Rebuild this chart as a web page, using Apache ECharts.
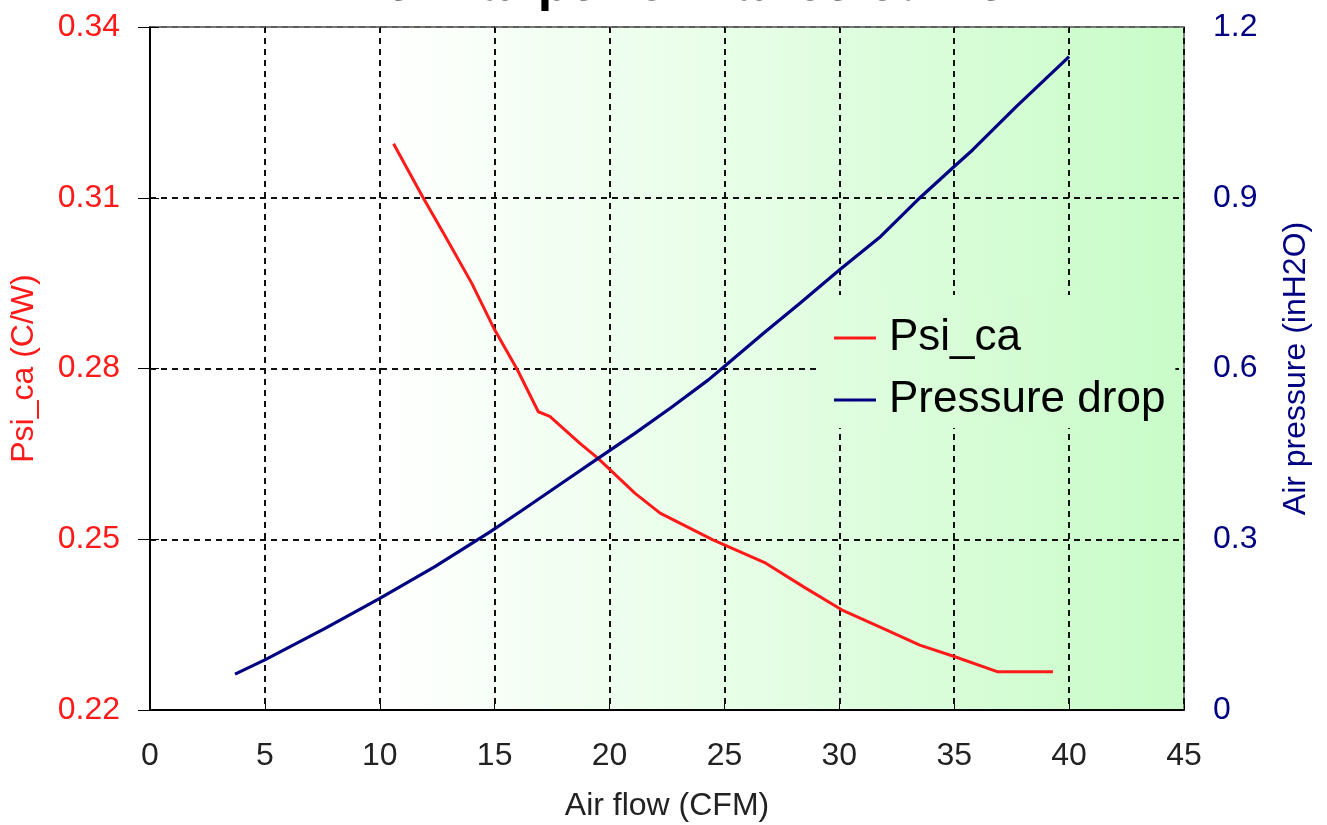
<!DOCTYPE html>
<html>
<head>
<meta charset="utf-8">
<script src="https://cdn.jsdelivr.net/npm/echarts@6/dist/echarts.min.js"></script>
<style>
html,body{margin:0;padding:0;background:#fff;}
#chart{width:1327px;height:825px;}
</style>
</head>
<body>
<div id="chart"></div>
<script>
// Air flow (CFM) vs Psi_ca (C/W)
var psiFlow = [10.6, 11.9, 12.8, 14.0, 15.0, 16.0, 16.9, 17.4, 18.7, 19.5, 21.1, 22.2, 24.5, 26.8, 28.5, 30.1, 31.8, 33.5, 35.0, 36.9, 39.3];
var psiValues = [0.3195, 0.3099, 0.3036, 0.2950, 0.2868, 0.2797, 0.2724, 0.2716, 0.2669, 0.2642, 0.2581, 0.2546, 0.2499, 0.2458, 0.2415, 0.2376, 0.2345, 0.2314, 0.2294, 0.2267, 0.2267];
// Air flow (CFM) vs Pressure drop (inH2O)
var pressureFlow = [3.7, 5.0, 7.6, 10.0, 12.4, 14.8, 16.2, 17.9, 19.5, 21.1, 22.7, 24.3, 24.8, 26.7, 28.3, 30.0, 31.8, 33.4, 35.0, 35.8, 37.7, 40.0];
var pressureValues = [0.063, 0.088, 0.143, 0.196, 0.252, 0.313, 0.351, 0.398, 0.442, 0.486, 0.532, 0.580, 0.597, 0.662, 0.715, 0.773, 0.832, 0.896, 0.955, 0.984, 1.060, 1.148];
var seriesNames = ['Psi_ca', 'Pressure drop'];
var titleText = 'Thermal performance curve';
var xAxisName = 'Air flow (CFM)';
var leftAxisName = 'Psi_ca (C/W)';
var rightAxisName = 'Air pressure (inH2O)';

function pairs(xs, ys) { return xs.map(function (x, i) { return [x, ys[i]]; }); }

var RED = '#ff1a1a';
var NAVY = '#000080';
var FONT = 'Liberation Sans';

var chart = echarts.init(document.getElementById('chart'));
var plotBg = new echarts.graphic.LinearGradient(0, 0, 1, 0, [
  { offset: 0, color: '#ffffff' },
  { offset: 0.22, color: '#ffffff' },
  { offset: 1, color: '#c8fcc8' }
]);
var legendBg = new echarts.graphic.LinearGradient(0, 0, 1, 0, [
  { offset: 0, color: '#e1fde1' },
  { offset: 1, color: '#c9fcc9' }
]);
var gridLine = { show: true, lineStyle: { color: '#111', type: [6, 5], width: 2 } };

chart.setOption({
  animation: false,
  backgroundColor: '#ffffff',
  title: {
    text: titleText,
    left: 316,
    top: -45,
    textStyle: { fontFamily: FONT, fontSize: 52, fontWeight: 'bold', color: '#000' }
  },
  grid: {
    left: 150, right: 143, top: 27, bottom: 115,
    outerBoundsMode: 'none',
    show: true, backgroundColor: plotBg, borderColor: '#555', borderWidth: 1.5
  },
  legend: {
    orient: 'vertical',
    left: 820, top: 295,
    padding: [19, 10, 4, 14],
    backgroundColor: legendBg,
    itemWidth: 42, itemHeight: 3, itemGap: 14,
    icon: 'rect',
    textStyle: { fontFamily: FONT, fontSize: 44, lineHeight: 48, color: '#000', padding: [0, 0, 0, 8] },
    data: seriesNames
  },
  xAxis: [{
    type: 'value', position: 'bottom', min: 0, max: 45, interval: 5,
    name: xAxisName, nameLocation: 'middle', nameGap: 80,
    nameTextStyle: { fontFamily: FONT, fontSize: 32, color: '#222' },
    axisLine: { show: true, lineStyle: { color: '#000', width: 2 } },
    axisTick: { show: true, inside: true, length: 6, lineStyle: { color: '#000' } },
    axisLabel: { fontFamily: FONT, fontSize: 32, color: '#222', margin: 30 },
    splitLine: gridLine
  }, {
    type: 'value', position: 'top', min: 0, max: 45, interval: 5,
    axisLine: { show: true, lineStyle: { color: '#777', width: 1.5 } },
    axisTick: { show: true, inside: true, length: 5, lineStyle: { color: '#000' } },
    axisLabel: { show: false },
    splitLine: { show: false }
  }],
  yAxis: [{
    type: 'value', position: 'left', min: 0.22, max: 0.34, interval: 0.03,
    name: leftAxisName, nameLocation: 'middle', nameGap: 110, nameRotate: 90,
    nameTextStyle: { fontFamily: FONT, fontSize: 32, color: RED },
    axisLine: { show: true, lineStyle: { color: '#000', width: 2 } },
    axisTick: { show: true, inside: true, length: 9, lineStyle: { color: '#000' } },
    axisLabel: { fontFamily: FONT, fontSize: 32, color: RED, margin: 30,
      formatter: function (v) { return v.toFixed(2); } },
    splitLine: gridLine
  }, {
    type: 'value', position: 'right', min: 0, max: 1.2, interval: 0.3,
    name: rightAxisName, nameLocation: 'middle', nameGap: 96, nameRotate: 90,
    nameTextStyle: { fontFamily: FONT, fontSize: 32, color: NAVY },
    axisLine: { show: true, lineStyle: { color: '#000', width: 2 } },
    axisTick: { show: true, inside: true, length: 12, lineStyle: { color: '#000' } },
    axisLabel: { fontFamily: FONT, fontSize: 32, color: NAVY, margin: 29,
      formatter: function (v) { return v === 0 ? '0' : String(Math.round(v * 10) / 10); } },
    splitLine: { show: false }
  }],
  series: [{
    name: seriesNames[0], type: 'line', xAxisIndex: 0, yAxisIndex: 0,
    data: pairs(psiFlow, psiValues), showSymbol: false, symbol: 'none',
    lineStyle: { color: RED, width: 3 }, itemStyle: { color: RED }, z: 3
  }, {
    name: seriesNames[1], type: 'line', xAxisIndex: 0, yAxisIndex: 1,
    data: pairs(pressureFlow, pressureValues), showSymbol: false, symbol: 'none',
    lineStyle: { color: NAVY, width: 3.2 }, itemStyle: { color: NAVY }, z: 3
  }]
});
</script>
</body>
</html>
